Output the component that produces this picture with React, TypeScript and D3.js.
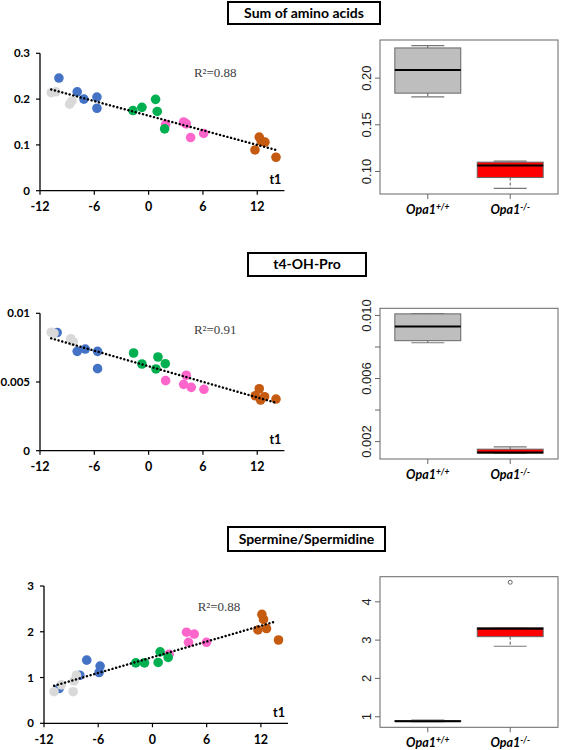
import React from "react";
import * as d3 from "d3";

// ---------- shared ----------
const xTicks = [-12, -6, 0, 6, 12];
const xDomain = [-12, 15];
const groupColors: Record<string, string> = {
  pink: "#FF66CC",
  blue: "#4472C4",
  gray: "#D9D9D9",
  green: "#00B050",
  orange: "#C55A11",
};
const drawOrder = ["pink", "blue", "gray", "green", "orange"];
const groupLabels = ["+/+", "-/-"];

// ---------- panel 1: Sum of amino acids ----------
const aminoBlue = [[-9.91, 0.246], [-7.89, 0.216], [-7.15, 0.2], [-5.71, 0.2045], [-5.71, 0.18]];
const aminoGray = [[-10.76, 0.214], [-10.24, 0.216], [-8.73, 0.189], [-8.47, 0.196]];
const aminoGreen = [[-1.73, 0.175], [-0.74, 0.182], [0.77, 0.1995], [0.95, 0.173], [1.77, 0.135]];
const aminoPink = [[1.88, 0.145], [3.87, 0.15], [4.16, 0.146], [4.64, 0.116], [6.08, 0.125]];
const aminoOrange = [[11.75, 0.089], [12.22, 0.117], [12.44, 0.1085], [12.85, 0.106], [14.07, 0.073]];
const aminoTrend = [[-10.76, 0.221], [14.07, 0.089]];
const aminoYTicks = [0, 0.1, 0.2, 0.3];
const aminoBoxWT = [0.1799, 0.1839, 0.2086, 0.2323, 0.2347];
const aminoBoxKO = [0.082, 0.0935, 0.1065, 0.11, 0.1111];
const aminoBoxTicks = [0.1, 0.15, 0.2];
const aminoBoxLabels = ["0.10", "0.15", "0.20"];

// ---------- panel 2: t4-OH-Pro ----------
const hypBlue = [[-10.1, 0.0086], [-7.89, 0.00723], [-7.0, 0.0074], [-5.64, 0.00723], [-5.64, 0.00597]];
const hypGray = [[-10.76, 0.00862], [-10.45, 0.00855], [-8.59, 0.00815], [-8.33, 0.00793]];
const hypGreen = [[-1.66, 0.00711], [-0.74, 0.00631], [0.81, 0.00595], [1.03, 0.00682], [1.84, 0.00633]];
const hypPink = [[1.88, 0.0051], [3.87, 0.00483], [4.16, 0.00549], [4.71, 0.00461], [6.11, 0.00447]];
const hypOrange = [[11.78, 0.004], [12.22, 0.00451], [12.37, 0.00369], [12.81, 0.00393], [14.07, 0.00376]];
const hypTrend = [[-10.76, 0.00818], [13.9, 0.00352]];
const hypYTicks = [0, 0.005, 0.01];
const hypBoxWT = [0.00827, 0.0084, 0.0093, 0.0101, 0.0101];
const hypBoxKO = [0.00125, 0.00127, 0.00131, 0.00152, 0.00166];
const hypBoxTicks = [0.002, 0.004, 0.006, 0.008, 0.01];
const hypBoxLabels = ["0.002", "", "0.006", "", "0.010"];

// ---------- panel 3: Spermine/Spermidine ----------
const spmGray = [[-10.89, 0.69], [-10.08, 0.84], [-8.78, 0.69], [-8.67, 0.93], [-8.41, 1.05]];
const spmBlue = [[-10.33, 0.76], [-8.04, 1.05], [-7.27, 1.38], [-5.79, 1.25], [-5.9, 1.11]];
const spmGreen = [[-1.84, 1.32], [-0.88, 1.32], [0.63, 1.33], [0.85, 1.56], [1.74, 1.44]];
const spmPink = [[1.85, 1.51], [3.77, 1.99], [4.62, 1.95], [3.99, 1.77], [5.98, 1.77]];
const spmOrange = [[11.67, 2.04], [12.11, 2.38], [12.29, 2.27], [12.62, 2.07], [13.95, 1.82]];
const spmTrend = [[-10.89, 0.82], [13.73, 2.23]];
const spmYTicks = [0, 1, 2, 3];
const spmBoxWT = [0.87, 0.88, 0.885, 0.9, 0.91];
const spmBoxKO = [2.84, 3.09, 3.3, 3.325, 3.325];
const spmOutliersKO = [4.51];
const spmBoxTicks = [1, 2, 3, 4];
const spmBoxLabels = ["1", "2", "3", "4"];

const labelFont = "Lato, 'Noto Sans', sans-serif";

type Pt = number[];

function Scatter(props: {
  groups: Record<string, Pt[]>;
  trend: Pt[];
  yTicks: number[];
  yFmt: (v: number) => string;
  xRange: [number, number];
  yRange: [number, number];
  r2: string;
  r2Dy: number;
}) {
  const { groups, trend, yTicks, yFmt, xRange, yRange, r2, r2Dy } = props;
  const x = d3.scaleLinear().domain(xDomain).range(xRange);
  const y = d3.scaleLinear().domain([yTicks[0], yTicks[yTicks.length - 1]]).range(yRange);
  const y0 = y(yTicks[0]);
  const line = d3.line<Pt>().x((d) => x(d[0])).y((d) => y(d[1]));
  return (
    <g>
      {drawOrder.map((g) =>
        (groups[g] || []).map((d, i) => (
          <circle key={g + i} cx={x(d[0])} cy={y(d[1])} r={4.8} fill={groupColors[g]} />
        ))
      )}
      <path
        d={line(trend) || ""}
        stroke="#000"
        strokeWidth={2.4}
        strokeDasharray="0.1 3.7"
        strokeLinecap="round"
        fill="none"
      />
      <line x1={x(-12)} x2={x(-12)} y1={y0} y2={y(yTicks[yTicks.length - 1])} stroke="#000" strokeWidth={1.3} />
      <line x1={x(-12)} x2={x(15)} y1={y0} y2={y0} stroke="#000" strokeWidth={1.3} />
      {yTicks.map((t) => (
        <g key={"y" + t}>
          <line x1={x(-12) - 4} x2={x(-12)} y1={y(t)} y2={y(t)} stroke="#000" strokeWidth={1.2} />
          <text
            x={x(-12) - 10}
            y={y(t)}
            dy="0.35em"
            textAnchor="end"
            fontFamily={labelFont}
            fontWeight="bold"
            fontSize={11.5}
            fill="#000"
          >
            {yFmt(t)}
          </text>
        </g>
      ))}
      {xTicks.map((t) => (
        <g key={"x" + t}>
          <line x1={x(t)} x2={x(t)} y1={y0} y2={y0 + 4} stroke="#000" strokeWidth={1.2} />
          <text
            x={x(t)}
            y={y0 + 16}
            dy="0.35em"
            textAnchor="middle"
            fontFamily={labelFont}
            fontWeight="bold"
            fontSize={12.5}
            fill="#000"
          >
            {t}
          </text>
        </g>
      ))}
      <text x={x(13.35)} y={y0 - 11} dy="0.35em" fontFamily={labelFont} fontWeight="bold" fontSize={12.5}>
        t1
      </text>
      <text
        x={x(5)}
        y={y(yTicks[yTicks.length - 1]) + r2Dy}
        dy="0.35em"
        fontFamily="'Liberation Serif', 'DejaVu Serif', serif"
        fontSize={13}
        fill="#404040"
      >
        {r2}
      </text>
    </g>
  );
}

function BoxPanel(props: {
  wt: number[];
  ko: number[];
  outliersKO?: number[];
  ticks: number[];
  tickLabels: string[];
  frame: [number, number, number, number]; // left, top, right, bottom
}) {
  const { wt, ko, outliersKO = [], ticks, tickLabels, frame } = props;
  const [left, top, right, bottom] = frame;
  const all = [...wt, ...ko, ...outliersKO];
  const lo = d3.min(all) as number;
  const hi = d3.max(all) as number;
  const pad = (hi - lo) * 0.04;
  const y = d3.scaleLinear().domain([lo - pad, hi + pad]).range([bottom, top]);
  const gx = d3.scaleLinear().domain([0.42, 2.58]).range([left, right]);
  const boxW = gx(1.4) - gx(1);
  const data = [
    { stats: wt, fill: "#BEBEBE", out: [] as number[] },
    { stats: ko, fill: "#FF0000", out: outliersKO },
  ];
  return (
    <g>
      {data.map((b, i) => {
        const cx = gx(i + 1);
        const [mn, q1, md, q3, mx] = b.stats;
        return (
          <g key={i}>
            <line x1={cx} x2={cx} y1={y(q3)} y2={y(mx)} stroke="#555" strokeDasharray="3 2" strokeWidth={1} />
            <line x1={cx} x2={cx} y1={y(q1)} y2={y(mn)} stroke="#555" strokeDasharray="3 2" strokeWidth={1} />
            <line x1={cx - boxW / 2} x2={cx + boxW / 2} y1={y(mx)} y2={y(mx)} stroke="#777" strokeWidth={1.2} />
            <line x1={cx - boxW / 2} x2={cx + boxW / 2} y1={y(mn)} y2={y(mn)} stroke="#777" strokeWidth={1.2} />
            <rect
              x={cx - boxW}
              y={y(q3)}
              width={boxW * 2}
              height={Math.max(y(q1) - y(q3), 0.5)}
              fill={b.fill}
              stroke="#666"
              strokeWidth={1}
            />
            <line x1={cx - boxW} x2={cx + boxW} y1={y(md)} y2={y(md)} stroke="#000" strokeWidth={2} />
            {b.out.map((o, k) => (
              <circle key={k} cx={cx} cy={y(o)} r={2} fill="none" stroke="#444" strokeWidth={0.8} />
            ))}
            <line x1={cx} x2={cx} y1={bottom} y2={bottom + 5} stroke="#666" strokeWidth={1} />
            <text
              x={cx}
              y={bottom + 20}
              textAnchor="middle"
              fontFamily={labelFont}
              fontWeight="bold"
              fontStyle="italic"
              fontSize={12.5}
              fill="#000"
            >
              Opa1
              <tspan dy={-4} fontSize={8.5}>
                {groupLabels[i]}
              </tspan>
            </text>
          </g>
        );
      })}
      <rect x={left} y={top} width={right - left} height={bottom - top} fill="none" stroke="#666" strokeWidth={1} />
      {ticks.map((t, i) => (
        <g key={t}>
          <line x1={left - 5} x2={left} y1={y(t)} y2={y(t)} stroke="#666" strokeWidth={1} />
          {tickLabels[i] && (
            <text
              transform={`translate(${left - 14},${y(t)}) rotate(-90)`}
              textAnchor="middle"
              dy="0.35em"
              fontFamily="'Liberation Sans', Arial, sans-serif"
              fontSize={13}
              fill="#222"
            >
              {tickLabels[i]}
            </text>
          )}
        </g>
      ))}
    </g>
  );
}

function TitleBox(props: { text: string; x: number; y: number; w: number; h: number }) {
  const { text, x, y, w, h } = props;
  return (
    <g>
      <rect x={x} y={y} width={w} height={h} fill="#fff" stroke="#000" strokeWidth={2} />
      <text
        x={x + w / 2}
        y={y + h / 2}
        dy="0.35em"
        textAnchor="middle"
        fontFamily={labelFont}
        fontWeight="bold"
        fontSize={14}
        fill="#000"
      >
        {text}
      </text>
    </g>
  );
}

export default function App() {
  return (
    <svg
      width={562}
      height={750}
      style={{ position: "absolute", left: 0, top: 0, background: "#fff" }}
    >
      <rect width={562} height={750} fill="#fff" />
      <TitleBox text="Sum of amino acids" x={228} y={2} w={152} h={22} />
      <Scatter
        groups={{ blue: aminoBlue, gray: aminoGray, green: aminoGreen, pink: aminoPink, orange: aminoOrange }}
        trend={aminoTrend}
        yTicks={aminoYTicks}
        yFmt={(v) => (v === 0 ? "0" : String(v))}
        xRange={[40, 284.4]}
        yRange={[190.7, 53.3]}
        r2="R²=0.88"
        r2Dy={19.4}
      />
      <BoxPanel
        wt={aminoBoxWT}
        ko={aminoBoxKO}
        ticks={aminoBoxTicks}
        tickLabels={aminoBoxLabels}
        frame={[380, 40, 558, 194]}
      />

      <TitleBox text="t4-OH-Pro" x={248} y={253} w={118} h={23} />
      <Scatter
        groups={{ blue: hypBlue, gray: hypGray, green: hypGreen, pink: hypPink, orange: hypOrange }}
        trend={hypTrend}
        yTicks={hypYTicks}
        yFmt={(v) => (v === 0 ? "0" : String(v))}
        xRange={[40, 284.4]}
        yRange={[450.7, 313.3]}
        r2="R²=0.91"
        r2Dy={16}
      />
      <BoxPanel
        wt={hypBoxWT}
        ko={hypBoxKO}
        ticks={hypBoxTicks}
        tickLabels={hypBoxLabels}
        frame={[380, 308.3, 558, 459]}
      />

      <TitleBox text="Spermine/Spermidine" x={228} y={527} w={157} h={24} />
      <Scatter
        groups={{ blue: spmBlue, gray: spmGray, green: spmGreen, pink: spmPink, orange: spmOrange }}
        trend={spmTrend}
        yTicks={spmYTicks}
        yFmt={(v) => String(v)}
        xRange={[44, 288]}
        yRange={[723.3, 586]}
        r2="R²=0.88"
        r2Dy={20.7}
      />
      <BoxPanel
        wt={spmBoxWT}
        ko={spmBoxKO}
        outliersKO={spmOutliersKO}
        ticks={spmBoxTicks}
        tickLabels={spmBoxLabels}
        frame={[380, 576.7, 558, 727.3]}
      />
    </svg>
  );
}
